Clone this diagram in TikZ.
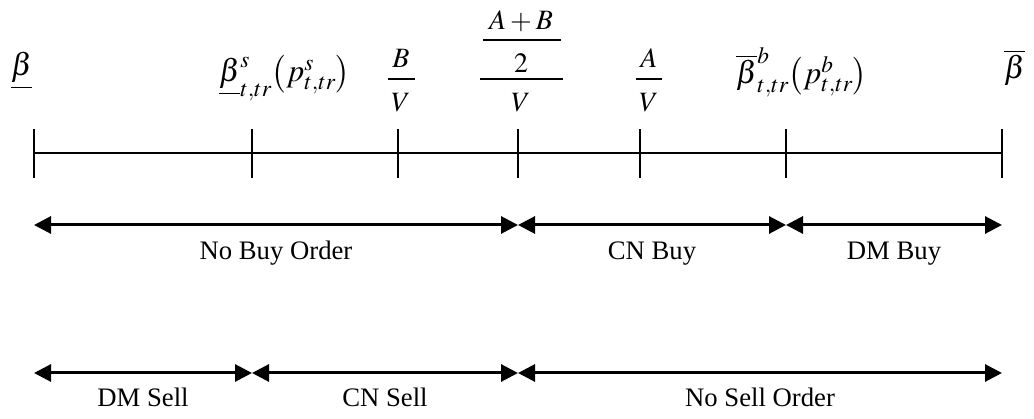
\documentclass[tikz,border=0pt]{standalone}
\usepackage{amsmath}
\usepackage{mathptmx}
\usepackage{fontspec}
\setmainfont{Liberation Serif}
\usetikzlibrary{arrows.meta}
\tikzset{
  axisline/.style={line width=1.6pt},
  tickmark/.style={line width=1.6pt},
  fracbar/.style={line width=1.4pt},
  rangearrow/.style={line width=3pt,{Triangle[length=17pt,width=17pt]}-{Triangle[length=17pt,width=17pt]}},
  lbl/.style={inner sep=0pt, anchor=base, font=\fontsize{26.7}{32}\selectfont},
  blbl/.style={inner sep=0pt, anchor=base west, font=\fontsize{31.5}{36}\selectfont},
  flbl/.style={inner sep=0pt, anchor=base, font=\fontsize{28}{33}\selectfont},
}
\begin{document}
\begin{tikzpicture}[x=1pt,y=-1pt]
\useasboundingbox (0,0) rectangle (1034,419);
% tick coordinates on the axis
\coordinate (t1) at (34,153);
\coordinate (t2) at (252,153);
\coordinate (t3) at (398,153);
\coordinate (t4) at (518,153);
\coordinate (t5) at (640,153);
\coordinate (t6) at (786,153);
\coordinate (t7) at (1002,153);
\draw[axisline] (t1) -- (t7);
\foreach \t in {t1,t2,t3,t4,t5,t6,t7}
  \draw[tickmark] ([yshift=-25pt]\t) -- ([yshift=24pt]\t);
% top labels
\node[blbl] (lb) at (11,76) {$\underline{\beta}$};
\node[blbl] (lbs) at (219,82) {$\underline{\beta}^{s}_{t,tr}\!\left(p^{s}_{t,tr}\right)$};
\node[blbl] (ubb) at (736,84) {$\overline{\beta}^{b}_{t,tr}\!\left(p^{b}_{t,tr}\right)$};
\node[blbl] (ub) at (1004,79) {$\overline{\beta}$};
% B/V
\node[flbl] (bvn) at (401,68) {$B$};
\draw[fracbar] (388,79) -- (415,79);
\node[flbl] (bvd) at (401,112) {$V$};
% (A+B)/2 / V
\node[flbl] (abn) at (521,30) {$A+B$};
\draw[fracbar] (483,40) -- (561,40);
\node[flbl] (ab2) at (521,73) {$2$};
\draw[fracbar] (480,79) -- (563,79);
\node[flbl] (abd) at (521,112) {$V$};
% A/V
\node[flbl] (avn) at (649,68) {$A$};
\draw[fracbar] (636,79) -- (662,79);
\node[flbl] (avd) at (649,112) {$V$};
% buy row
\coordinate (b1) at (34,225);
\coordinate (b2) at (518,225);
\coordinate (b3) at (786,225);
\coordinate (b4) at (1002,225);
\draw[rangearrow] (b1) -- (b2);
\draw[rangearrow] (b2) -- (b3);
\draw[rangearrow] (b3) -- (b4);
\node[lbl] (nbo) at (276,260) {No Buy Order};
\node[lbl] (cnb) at (652,260) {CN Buy};
\node[lbl] (dmb) at (894,260) {DM Buy};
% sell row
\coordinate (s1) at (34,373);
\coordinate (s2) at (252,373);
\coordinate (s3) at (518,373);
\coordinate (s4) at (1002,373);
\draw[rangearrow] (s1) -- (s2);
\draw[rangearrow] (s2) -- (s3);
\draw[rangearrow] (s3) -- (s4);
\node[lbl] (dms) at (143,407) {DM Sell};
\node[lbl] (cns) at (385,407) {CN Sell};
\node[lbl] (nso) at (760,407) {No Sell Order};
\end{tikzpicture}
\end{document}
